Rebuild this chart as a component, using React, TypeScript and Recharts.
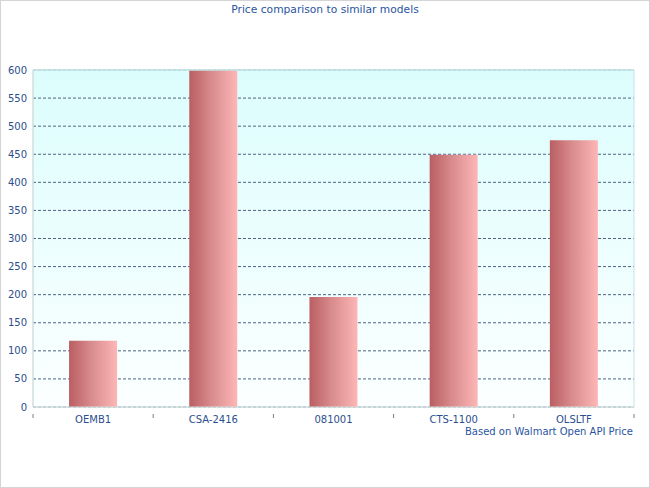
import { BarChart, Bar, XAxis, YAxis, CartesianGrid, ReferenceArea, ReferenceLine } from "recharts";

const models = ["OEMB1", "CSA-2416", "081001", "CTS-1100", "OLSLTF"];
const prices = [118, 600, 196, 449, 475];
const yTicks = [0, 50, 100, 150, 200, 250, 300, 350, 400, 450, 500, 550, 600];

const data = models.map((name, i) => ({ name, price: prices[i] }));

const PLOT_LEFT = 33;
const PLOT_RIGHT = 634;
const BAND = (PLOT_RIGHT - PLOT_LEFT) / models.length;

const textColor = "#2b4f8e";

const CategoryTick = (props: any) => {
    const { x, y, payload, index } = props;
    const left = x - BAND / 2;
    return (
        <g>
            <line x1={left} y1={y - 1} x2={left} y2={y + 3} stroke="#6a8090" />
            {index === models.length - 1 && (
                <line x1={x + BAND / 2} y1={y - 1} x2={x + BAND / 2} y2={y + 3} stroke="#6a8090" />
            )}
            <text x={x} y={y + 8} textAnchor="middle" fill={textColor} fontSize={10}>
                {payload.value}
            </text>
        </g>
    );
};

export default function App() {
    return (
        <div
            style={{
                position: "fixed",
                left: 0,
                top: 0,
                width: 650,
                height: 488,
                boxSizing: "border-box",
                border: "1px solid #d4d4d4",
                background: "#fff",
                fontFamily: "'DejaVu Sans', sans-serif",
                overflow: "hidden",
            }}
        >
            <div
                style={{
                    position: "absolute",
                    top: 2,
                    left: 0,
                    width: 648,
                    textAlign: "center",
                    fontSize: 10.7,
                    color: "#2a55a0",
                }}
            >
                Price comparison to similar models
            </div>
            <div
                style={{
                    position: "absolute",
                    top: 425,
                    right: 16,
                    fontSize: 10,
                    color: "#2a55a0",
                }}
            >
                Based on Walmart Open API Price
            </div>
            <div style={{ position: "absolute", left: -1, top: -1 }}>
                <BarChart
                    width={650}
                    height={488}
                    data={data}
                    margin={{ top: 70, right: 16, left: 0, bottom: 51 }}
                    barCategoryGap="30%"
                >
                    <defs>
                        <linearGradient id="plotBg" x1="0" y1="0" x2="0" y2="1">
                            <stop offset="0%" stopColor="#dcfdfd" />
                            <stop offset="100%" stopColor="#fcffff" />
                        </linearGradient>
                        <linearGradient id="barFill" x1="0" y1="0" x2="1" y2="0">
                            <stop offset="0%" stopColor="#ba5e62" />
                            <stop offset="45%" stopColor="#d88a8c" />
                            <stop offset="100%" stopColor="#fdb6b6" />
                        </linearGradient>
                    </defs>
                    <CartesianGrid
                        vertical={false}
                        fill="url(#plotBg)"
                        stroke="#4c6484"
                        strokeDasharray="3 2"
                    />
                    <ReferenceArea y1={0} y2={600} fill="none" fillOpacity={0} stroke="#c4e4e6" />
                    <ReferenceLine y={600} stroke="#c4e4e6" strokeWidth={1.5} />
                    <XAxis
                        dataKey="name"
                        height={30}
                        tickLine={false}
                        axisLine={{ stroke: "#d8dcdc" }}
                        tick={<CategoryTick />}
                        interval={0}
                    />
                    <YAxis
                        width={33}
                        domain={[0, 600]}
                        ticks={yTicks}
                        interval={0}
                        tickSize={0}
                        tickMargin={6}
                        axisLine={{ stroke: "#d8dcdc" }}
                        tick={{ fill: textColor, fontSize: 10 }}
                    />
                    <Bar dataKey="price" fill="url(#barFill)" isAnimationActive={false} />
                </BarChart>
            </div>
        </div>
    );
}
